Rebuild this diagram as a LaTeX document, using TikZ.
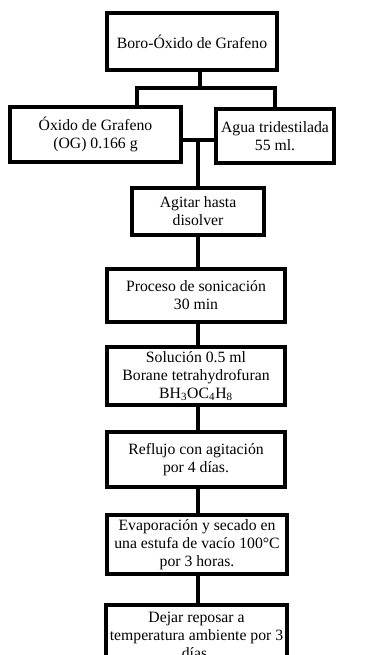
\documentclass[tikz,border=0pt]{standalone}
\usepackage{fontspec}
\setmainfont{Liberation Serif}
\usetikzlibrary{positioning}

\begin{document}
\begin{tikzpicture}[
        x=0.75pt, y=-0.75pt,
        every node/.style={font=\fontsize{11.8}{13.5}\selectfont},
        box/.style={draw, rectangle, line width=2.3pt, fill=white, align=center, inner sep=0pt},
        conn/.style={line width=2.3pt}
    ]

    \path[use as bounding box] (0,0) rectangle (383,655);
    \clip (0,0) rectangle (383,655);

    \node[box, minimum width=170*0.75pt, minimum height=57*0.75pt] (boro) at (192,41.5) {Boro-Óxido de Grafeno};

    \node[box, minimum width=171*0.75pt, minimum height=55*0.75pt] (og) at (95.5,134.5) {Óxido de Grafeno \\ (OG) 0.166 g};
    \node[box, minimum width=118*0.75pt, minimum height=54*0.75pt] (agua) at (275,136) {Agua tridestilada \\ 55 ml.};

    \node[box, minimum width=132*0.75pt, minimum height=47*0.75pt] (agitar) at (198,211.5) {Agitar hasta \\ disolver};
    \node[box, minimum width=178*0.75pt, minimum height=53*0.75pt] (sonicacion) at (196,295.5) {Proceso de sonicación \\ 30 min};
    \node[box, minimum width=178*0.75pt, minimum height=58*0.75pt] (solucion) at (196,376) {Solución 0.5 ml \\ Borane tetrahydrofuran \\ BH\textsubscript{3}OC\textsubscript{4}H\textsubscript{8}};
    \node[box, minimum width=178*0.75pt, minimum height=55*0.75pt] (reflujo) at (196,459.5) {Reflujo con agitación \\ por 4 días.};
    \node[box, minimum width=180*0.75pt, minimum height=59*0.75pt] (secado) at (197,544.5) {Evaporación y secado en \\ una estufa de vacío 100°C \\ por 3 horas.};
    \node[box, minimum width=181*0.75pt, minimum height=60*0.75pt] (reposo) at (196.5,635) {Dejar reposar a \\ temperatura ambiente por 3 \\ días.};

    \coordinate (bar) at (200,88);
    \coordinate (barL) at (137,88);
    \coordinate (join) at (198,140);

    \draw[conn] (boro.south -| bar) -- (bar);
    \draw[conn] (barL |- og.north) -- (barL) -- (agua.north |- barL) -- (agua.north);

    \draw[conn] (og.east |- join) -- (agua.west |- join);
    \draw[conn] (join) -- (agitar.north);

    \draw[conn] (agitar.south) -- (sonicacion.north -| join);
    \draw[conn] (sonicacion.south -| join) -- (solucion.north -| join);
    \draw[conn] (solucion.south -| join) -- (reflujo.north -| join);
    \draw[conn] (reflujo.south -| join) -- (secado.north -| join);
    \draw[conn] (secado.south -| join) -- (reposo.north -| join);

\end{tikzpicture}
\end{document}
